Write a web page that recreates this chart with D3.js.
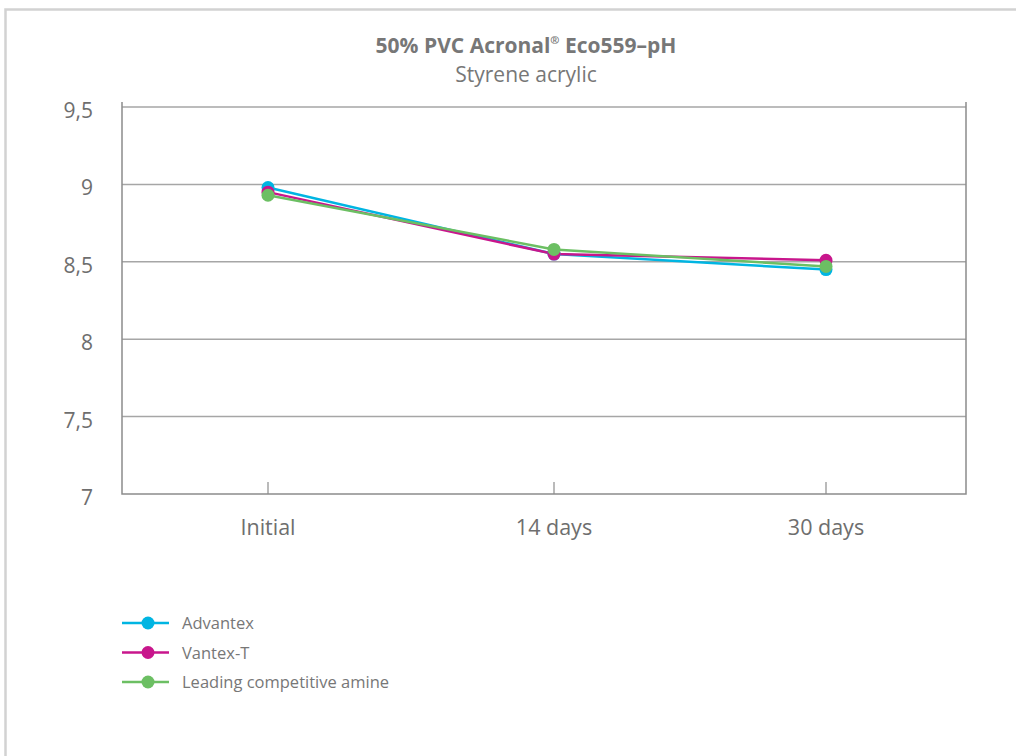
<!DOCTYPE html>
<html><head><meta charset="utf-8">
<script src="https://cdn.jsdelivr.net/npm/d3@7"></script>
<style>
html,body{margin:0;padding:0;background:#fff;}
svg{display:block;font-family:"Open Sans","Noto Sans",sans-serif;}
</style></head>
<body>
<svg id="chart" width="1016" height="756"></svg>
<script>
const categories = ["Initial", "14 days", "30 days"];
const seriesNames = ["Advantex", "Vantex-T", "Leading competitive amine"];
const advantex = [8.98, 8.55, 8.45];
const vantexT = [8.95, 8.55, 8.51];
const leading = [8.93, 8.58, 8.47];
const yTicks = [7, 7.5, 8, 8.5, 9, 9.5];
const yTickLabels = ["7", "7,5", "8", "8,5", "9", "9,5"];
const colors = ["#00b5e2", "#c8168c", "#6cbf63"];

const series = [advantex, vantexT, leading];
const svg = d3.select("#chart");

// frame
svg.append("path").attr("d", "M5.5,760 V9.5 H1020")
  .attr("fill", "none").attr("stroke", "#d2d2d2").attr("stroke-width", 2.5);

const pLeft = 122, pRight = 966, pTop = 102, pBottom = 494;
const y = d3.scaleLinear().domain([7, 9.5]).range([pBottom, 107]);
const x = d3.scaleOrdinal().domain(categories).range([268, 554, 826]);

// gridlines
svg.append("g").selectAll("line").data(yTicks.slice(1)).join("line")
  .attr("x1", pLeft).attr("x2", pRight)
  .attr("y1", d => y(d)).attr("y2", d => y(d))
  .attr("stroke", "#a6a6a6").attr("stroke-width", 1.5);

// axes frame
svg.append("path").attr("d", `M${pLeft},${pTop} V${pBottom} H${pRight} V${pTop}`)
  .attr("fill", "none").attr("stroke", "#8c8c8c").attr("stroke-width", 1.5);

// y labels
svg.append("g").selectAll("text").data(yTicks).join("text")
  .attr("x", 93).attr("y", d => y(d) + 11)
  .attr("text-anchor", "end").attr("font-size", 21).attr("fill", "#6e6e6e")
  .text((d, i) => yTickLabels[i]);

// x ticks and labels
const xg = svg.append("g");
xg.selectAll("line").data(categories).join("line")
  .attr("x1", d => x(d)).attr("x2", d => x(d))
  .attr("y1", pBottom - 12).attr("y2", pBottom)
  .attr("stroke", "#8c8c8c").attr("stroke-width", 1.2);
xg.selectAll("text").data(categories).join("text")
  .attr("x", d => x(d)).attr("y", 535)
  .attr("text-anchor", "middle").attr("font-size", 21.5).attr("fill", "#6e6e6e")
  .text(d => d);

// lines
const line = d3.line().x((d, i) => x(categories[i])).y(d => y(d));
series.forEach((s, k) => {
  svg.append("path").datum(s).attr("d", line)
    .attr("fill", "none").attr("stroke", colors[k]).attr("stroke-width", 2.5);
});
series.forEach((s, k) => {
  svg.append("g").selectAll("circle").data(s).join("circle")
    .attr("cx", (d, i) => x(categories[i])).attr("cy", d => y(d))
    .attr("r", 6.5).attr("fill", colors[k]);
});

// title
svg.append("text").attr("x", 526).attr("y", 53).attr("text-anchor", "middle")
  .attr("font-size", 21).attr("font-weight", "bold").attr("fill", "#777")
  .html('50% PVC Acronal<tspan font-size="11" dy="-9">®</tspan><tspan dy="9"> Eco559–pH</tspan>');
svg.append("text").attr("x", 526).attr("y", 82).attr("text-anchor", "middle")
  .attr("font-size", 21).attr("fill", "#777").text("Styrene acrylic");

// legend
const leg = svg.append("g").selectAll("g").data(seriesNames).join("g")
  .attr("transform", (d, i) => `translate(0,${623 + i * 29.5})`);
leg.append("line").attr("x1", 122).attr("x2", 169).attr("y1", 0).attr("y2", 0)
  .attr("stroke", (d, i) => colors[i]).attr("stroke-width", 2.5);
leg.append("circle").attr("cx", 148).attr("cy", 0).attr("r", 6.5)
  .attr("fill", (d, i) => colors[i]);
leg.append("text").attr("x", 182).attr("y", 6).attr("font-size", 16.5)
  .attr("fill", "#777").text(d => d);
</script>
</body></html>
